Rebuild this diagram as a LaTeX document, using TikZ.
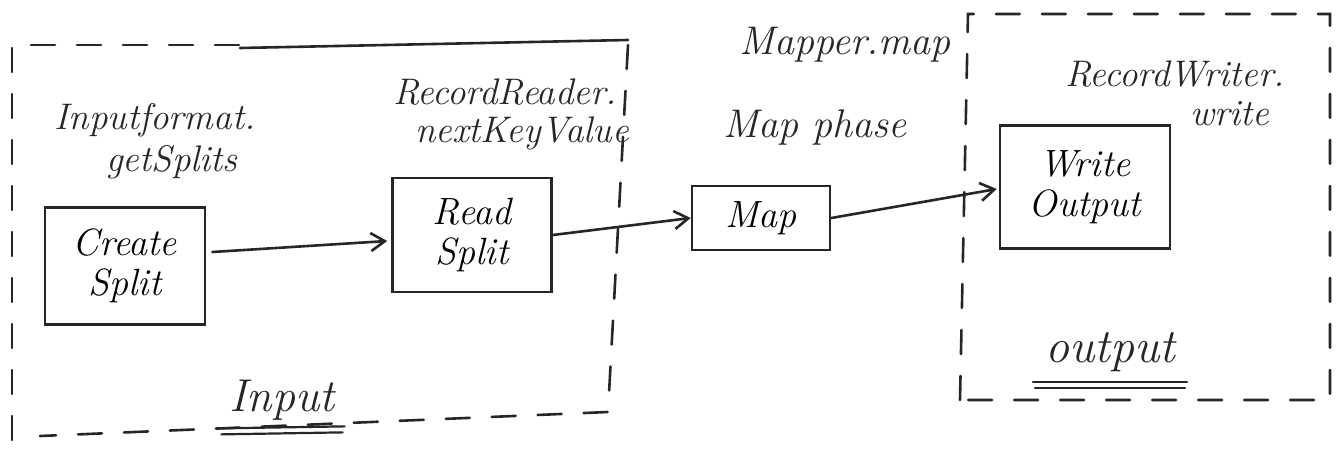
\documentclass[tikz,border=0pt]{standalone}
\usetikzlibrary{arrows.meta,calc}
\begin{document}
\begin{tikzpicture}[x=1pt,y=-1pt,
  ink/.style={draw=black!85, line width=2.6pt, line cap=round},
  region/.style={ink, dash pattern=on 24pt off 22pt},
  procbox/.style={ink, rectangle, minimum width=#1, inner sep=0pt,
    font=\fontsize{38}{40}\selectfont\itshape, align=center},
  lbl/.style={font=\fontsize{37}{40}\selectfont\itshape, inner sep=0pt, text=black!85},
  flow/.style={ink, -{Straight Barb[length=14pt,width=18pt,line width=2.6pt]}},
  uline/.style={ink, line width=2.2pt}
]
\useasboundingbox (0,0) rectangle (1339,453);
% regions
\coordinate (iTL) at (12,45);
\coordinate (iTR) at (628,45);
\coordinate (iBR) at (608,412);
\coordinate (iBL) at (12,440);
\draw[region] (iBL) -- (iTL) -- (240,45);
\draw[ink] (240,48) -- (628,40);
\draw[region] (iTR) -- (iBR) -- (40,436);
\coordinate (oTL) at (968,14);
\coordinate (oTR) at (1330,14);
\coordinate (oBR) at (1330,400);
\coordinate (oBL) at (960,400);
\draw[region] (oBL) -- (oTL) -- (oTR) -- (oBR) -- (oBL);
% boxes
\node[procbox=160pt, minimum height=117pt] (cs) at (125,266) {Create\\Split};
\node[procbox=159pt, minimum height=114pt] (rs) at (472,235) {Read\\Split};
\node[procbox=138pt, minimum height=64pt] (mp) at (761,218) {Map};
\node[procbox=170pt, minimum height=123pt] (wo) at (1085,187) {Write\\Output};
% connectors
\draw[flow] ($(cs.east)+(6,-14)$) -- ($(rs.west)+(-4,6)$);
\draw[flow] (rs.east) -- (mp.west);
\draw[flow] (mp.east) -- ($(wo.west)+(-2,2)$);
% labels
\node[lbl] (l1a) at (155,120) {Inputformat.};
\node[lbl] (l1b) at (172,162) {getSplits};
\node[lbl] (l2a) at (505,92) {RecordReader.};
\node[lbl] (l2b) at (522,133) {nextKeyValue};
\node[lbl, font=\fontsize{40}{44}\selectfont\itshape] (l3) at (845,45) {Mapper.map};
\node[lbl, font=\fontsize{40}{44}\selectfont\itshape] (l4) at (815,127) {Map phase};
\node[lbl] (l5a) at (1175,74) {RecordWriter.};
\node[lbl] (l5b) at (1230,114) {write};
\node[lbl, font=\fontsize{46}{50}\selectfont\itshape] (inp) at (282,400) {Input};
\node[lbl, font=\fontsize{48}{52}\selectfont\itshape] (outp) at (1110,352) {output};
\draw[uline] ($(inp.south west)+(-10,8)$) -- ($(inp.south east)+(10,6)$);
\draw[uline] ($(inp.south west)+(-8,14)$) -- ($(inp.south east)+(8,12)$);
\draw[uline] ($(outp.south west)+(-12,10)$) -- ($(outp.south east)+(12,10)$);
\draw[uline] ($(outp.south west)+(-10,16)$) -- ($(outp.south east)+(10,16)$);
\end{tikzpicture}
\end{document}
